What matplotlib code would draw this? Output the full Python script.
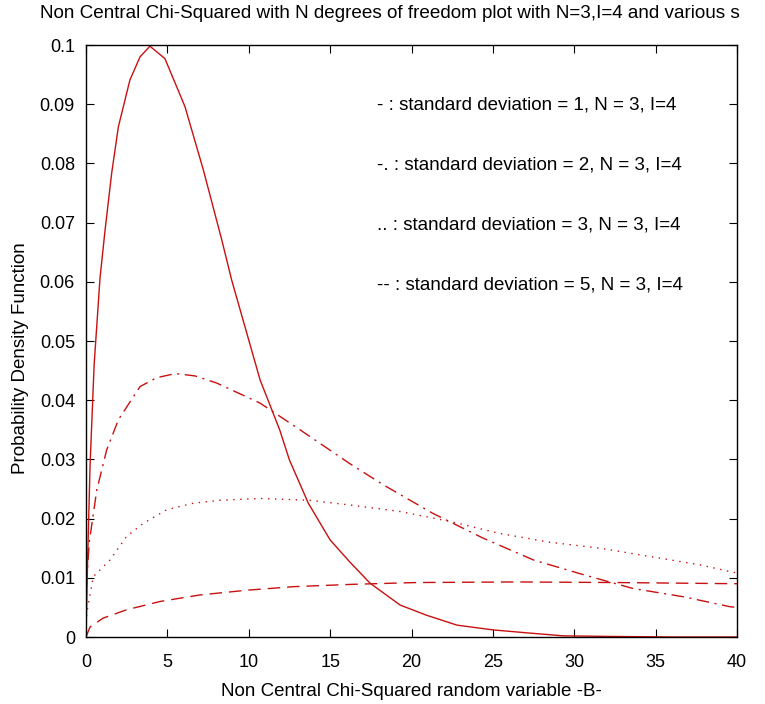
import matplotlib
matplotlib.use("Agg")
import matplotlib.pyplot as plt

plt.rcParams['font.family'] = ['Liberation Sans', 'DejaVu Sans']

# sd = 1 (solid)
x_sd1 = [0, 0.1, 0.25, 0.5, 0.86, 1.17, 1.58, 1.99, 2.7, 3.32, 3.93, 4.85, 6.08, 7.21,
         8.34, 8.95, 10.7, 11.9, 12.5, 13.66, 15.0, 16.2, 17.45, 19.3, 20.9, 22.8,
         25.0, 27.1, 29.3, 32.0, 36.0, 40.0]
y_sd1 = [0, 0.013, 0.029, 0.046, 0.0606, 0.0687, 0.0784, 0.0862, 0.0941, 0.098, 0.0998,
         0.0977, 0.0896, 0.0789, 0.0671, 0.0603, 0.0434, 0.035, 0.0299, 0.0226, 0.0164,
         0.0127, 0.0091, 0.0054, 0.0037, 0.002, 0.0012, 0.0007, 0.0002, 0.0001, 0.0, 0.0]

# sd = 2 (dash-dot)
x_sd2 = [0, 0.04, 0.2, 0.66, 1.27, 1.99, 3.32, 4.34, 5.5, 6.7, 8.03, 10.7, 13.15, 16.2,
         18.27, 21.3, 24.4, 27.5, 30.6, 33.6, 36.7, 39.6, 40.0]
y_sd2 = [0, 0.0096, 0.016, 0.0248, 0.0316, 0.0367, 0.0423, 0.0438, 0.0445, 0.0441,
         0.0429, 0.0395, 0.035, 0.0293, 0.0257, 0.0209, 0.0167, 0.013, 0.0105, 0.0082,
         0.0068, 0.0051, 0.005]

# sd = 3 (dotted)
x_sd3 = [0, 0.04, 0.45, 1.47, 2.5, 3.52, 4.96, 6.59, 8.23, 10.7, 13.76, 16.2, 19.3,
         22.4, 25.4, 28.5, 31.6, 34.65, 37.7, 40.0]
y_sd3 = [0, 0.004, 0.0102, 0.013, 0.017, 0.0192, 0.0215, 0.0226, 0.0231, 0.0234,
         0.0231, 0.0223, 0.0212, 0.0195, 0.0175, 0.016, 0.015, 0.0136, 0.0122, 0.0108]

# sd = 5 (dashed)
x_sd5 = [0, 0.25, 1.06, 2.5, 4.55, 7.0, 9.87, 12.74, 16.4, 20.3, 26.5, 32.6, 40.0]
y_sd5 = [0, 0.0017, 0.0032, 0.0046, 0.006, 0.0071, 0.0079, 0.0085, 0.0089, 0.0092,
         0.0093, 0.0092, 0.009]

labels = ['- : standard deviation = 1, N = 3, I=4',
          '-. : standard deviation = 2, N = 3, I=4',
          '.. : standard deviation = 3, N = 3, I=4',
          '-- : standard deviation = 5, N = 3, I=4']
label_y = [0.0899, 0.0797, 0.0696, 0.0595]

red = '#c81010'
fig = plt.figure(figsize=(7.65, 7.04), dpi=100)
ax = fig.add_axes([86/765, 67/704, 651/765, 592/704])

ax.plot(x_sd1, y_sd1, color=red, lw=1.0, ls='-')
ax.plot(x_sd2, y_sd2, color=red, lw=1.0, ls=(0, (9, 4, 1.5, 4)))
ax.plot(x_sd3, y_sd3, color=red, lw=1.0, ls=(0, (1, 4)))
ax.plot(x_sd5, y_sd5, color=red, lw=1.0, ls=(0, (9, 5)))

for lab, yy in zip(labels, label_y):
    ax.text(17.9, yy, lab, fontsize=13.5, va='center', ha='left')

ax.set_xlim(0, 40)
ax.set_ylim(0, 0.1)
ax.set_xticks(range(0, 41, 5))
ax.set_yticks([i / 100 for i in range(11)])
ax.set_yticklabels(['0'] + ['%.2f' % (i / 100) for i in range(1, 10)] + ['0.1'])
ax.tick_params(direction='in', length=6, top=True, right=True, labelsize=13)
ax.tick_params(axis='x', pad=12)
ax.tick_params(axis='y', pad=8)
for s in ax.spines.values():
    s.set_linewidth(1.0)

fig.text(40/765, 1 - 14/704,
         'Non Central Chi-Squared with N degrees of freedom plot with N=3,I=4 and various s',
         fontsize=13.6, ha='left', va='center')
fig.text(411/765, 1 - 692/704, 'Non Central Chi-Squared random variable -B-',
         fontsize=13.5, ha='center', va='center')
fig.text(21/765, 1 - 358/704, 'Probability Density Function', fontsize=13.5,
         rotation=90, ha='center', va='center')

fig.savefig('out.png', dpi=100)
